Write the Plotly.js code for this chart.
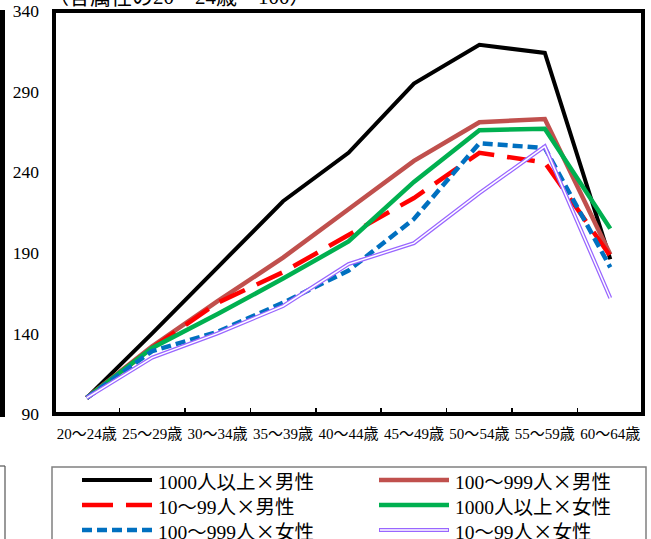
<!DOCTYPE html>
<html>
<head>
<meta charset="utf-8">
<script src="https://cdn.plot.ly/plotly-3.0.1.min.js"></script>
<style>html,body{margin:0;padding:0;background:#fff;}#chart{width:651px;height:539px;}</style>
</head>
<body>
<div id="chart"></div>
<script>
const categories = ["20～24歳","25～29歳","30～34歳","35～39歳","40～44歳","45～49歳","50～54歳","55～59歳","60～64歳"];
const tickValues = [90, 140, 190, 240, 290, 340];
const seriesNames = ["1000人以上×男性","100～999人×男性","10～99人×男性","1000人以上×女性","100～999人×女性","10～99人×女性"];
const large_male = [100, 140, 181, 222, 252, 295, 319, 314, 186];
const mid_male   = [100, 132, 160, 187, 217, 247, 271, 273, 189];
const small_male = [100, 131, 159, 178, 201, 224, 252, 246, 188];
const large_female = [100, 131, 152, 174, 197, 234, 266, 267, 205];
const mid_female   = [100, 129, 141, 159, 179, 211, 258, 255, 181];
const small_female = [100, 125, 140, 157, 183, 196, 227, 256, 162];
const titleText = "（各属性の20～24歳＝100）";

const FONT = '"Liberation Serif", "Noto Sans CJK JP", serif';
const CJK = "Noto Sans CJK JP";
function fw(s) {
  return s.replace(/[～×（）＝]/g, m => '<span style="font-family:' + CJK + '">' + m + '</span>');
}

const styles = [
  {color: '#000000', width: 4, dash: 'solid'},
  {color: '#C0504D', width: 4.5, dash: 'solid'},
  {color: '#FF0000', width: 4.5, dash: '28px,13px'},
  {color: '#00B050', width: 4.5, dash: 'solid'},
  {color: '#0070C0', width: 4.5, dash: '10px,5px'},
  {color: '#9966FF', width: 4, dash: 'solid'}
];
const series = [large_male, mid_male, small_male, large_female, mid_female, small_female];

const data = series.map((y, i) => ({
  type: 'scatter', mode: 'lines', x: categories, y: y, name: seriesNames[i],
  line: {color: styles[i].color, width: styles[i].width, dash: styles[i].dash}, showlegend: false
}));
// inner white stroke for the double purple line
data.push({type: 'scatter', mode: 'lines', x: categories, y: small_female, name: seriesNames[5] + '(inner)',
  line: {color: '#FFFFFF', width: 1.5}, showlegend: false});

const L = 54, R = 643, T = 11, B = 414, W = 651, H = 539;
const PW = R - L, PH = B - T;
function px(x){ return (x - L) / PW; }
function py(y){ return (B - y) / PH; }

const shapes = [
  {type: 'rect', xref: 'paper', yref: 'paper', x0: 0, x1: 1, y0: 0, y1: 1, line: {color: '#000', width: 4}, layer: 'above'},
  {type: 'line', xref: 'paper', yref: 'paper', x0: px(2.5), x1: px(2.5), y0: py(10), y1: py(417), line: {color: '#000', width: 5}},
  {type: 'line', xref: 'paper', yref: 'paper', x0: px(5), x1: px(5), y0: py(466), y1: py(545), line: {color: '#555', width: 1.2}},
  {type: 'line', xref: 'paper', yref: 'paper', x0: px(-2), x1: px(5), y0: py(466), y1: py(466), line: {color: '#555', width: 1.2}},
  {type: 'rect', xref: 'paper', yref: 'paper', x0: px(52), x1: px(646), y0: py(467), y1: py(548), line: {color: '#808080', width: 1.5}, fillcolor: 'rgba(0,0,0,0)'}
];
const annotations = [
  {text: fw(titleText), xref: 'paper', yref: 'paper', x: px(46), y: py(-5), xanchor: 'left', yanchor: 'middle',
   showarrow: false, font: {size: 21, family: FONT}}
];

const colX = [82, 379];
const rowY = [480, 505, 530];
seriesNames.forEach((name, i) => {
  const cx = colX[i % 2], cy = rowY[Math.floor(i / 2)];
  const st = styles[i];
  shapes.push({type: 'line', xref: 'paper', yref: 'paper', x0: px(cx), x1: px(cx + 70), y0: py(cy), y1: py(cy),
    line: {color: st.color, width: st.width, dash: i === 2 ? '31px,13px' : st.dash}});
  if (i === 5) {
    shapes.push({type: 'line', xref: 'paper', yref: 'paper', x0: px(cx + 1), x1: px(cx + 69), y0: py(cy), y1: py(cy),
      line: {color: '#fff', width: 1.5}});
  }
  annotations.push({text: fw(name), xref: 'paper', yref: 'paper', x: px(cx + 75), y: py(cy), xanchor: 'left', yanchor: 'middle',
    showarrow: false, height: 24, borderpad: 0, valign: 'middle', font: {size: 19.5, family: FONT}});
});

const layout = {
  width: W, height: H,
  margin: {l: L, r: W - R, t: T, b: H - B, autoexpand: false},
  paper_bgcolor: '#fff', plot_bgcolor: '#fff',
  font: {family: FONT, color: '#000', size: 16},
  showlegend: false,
  xaxis: {
    type: 'category', range: [-0.5, 8.5], tickson: 'boundaries', ticks: 'inside', ticklen: 6, tickwidth: 1.5, tickcolor: '#000',
    tickvals: categories, ticktext: categories.map(fw), tickangle: 0,
    showline: false, showgrid: false, zeroline: false, automargin: false,
    tickfont: {size: 15, family: FONT}, ticklabelstandoff: 9, fixedrange: true
  },
  yaxis: {
    range: [90, 340], tickvals: tickValues, ticktext: tickValues.map(String),
    ticks: '', showline: false, showgrid: false, zeroline: false, automargin: false,
    tickfont: {size: 17.5, family: FONT}, ticklabelstandoff: 14, fixedrange: true
  },
  annotations: annotations,
  shapes: shapes
};

Plotly.newPlot('chart', data, layout, {staticPlot: true, displayModeBar: false});
</script>
</body>
</html>
